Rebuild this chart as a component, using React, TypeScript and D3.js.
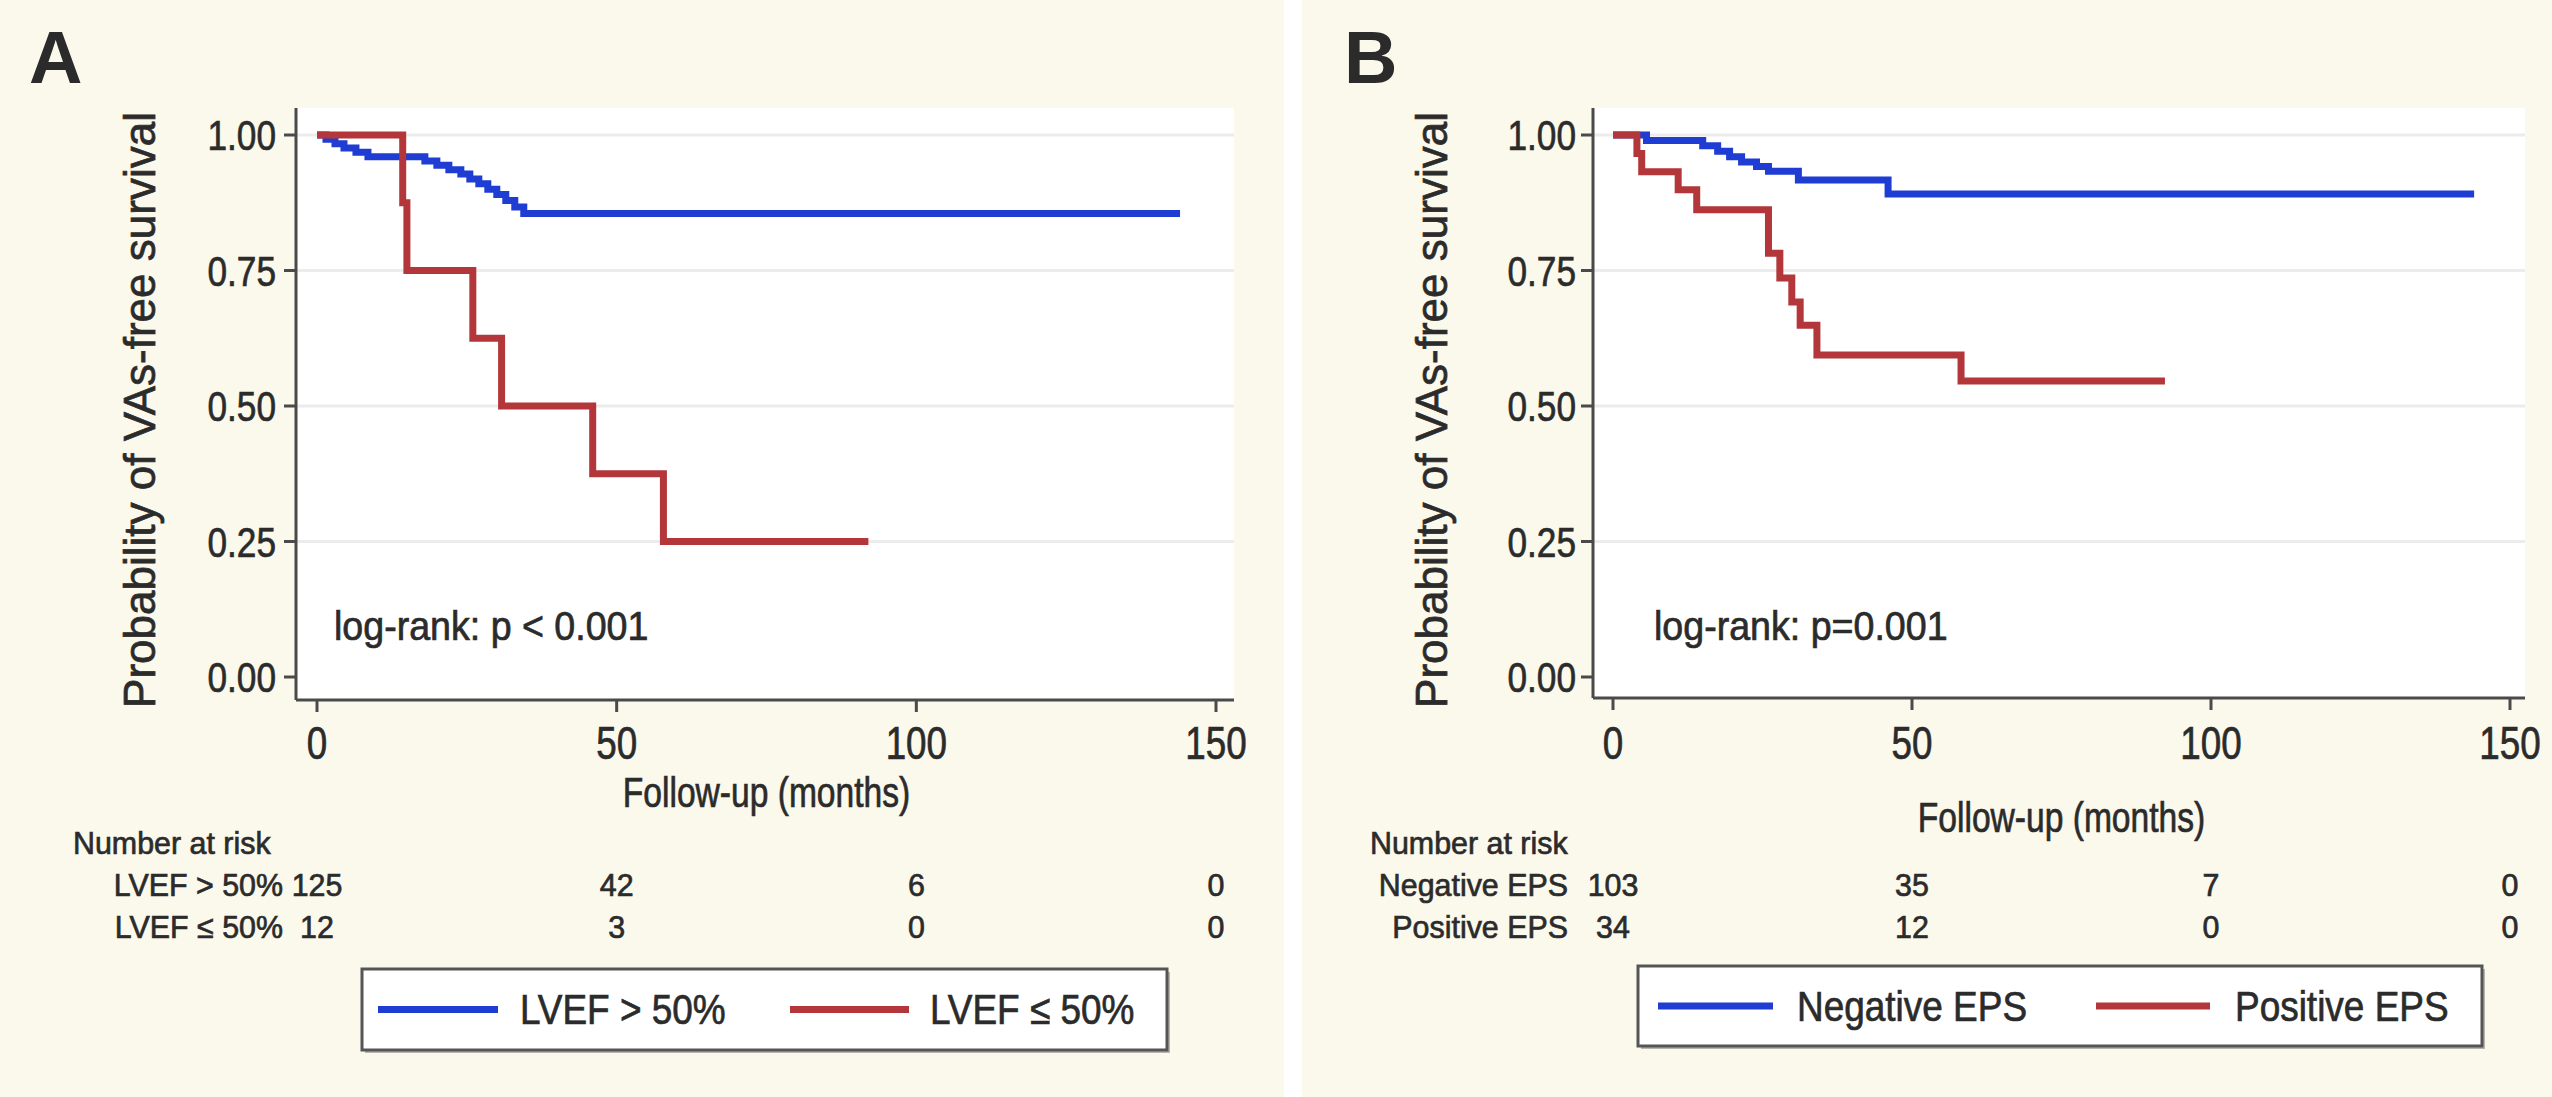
import React from 'react';
import * as d3 from 'd3';

// shared axes
const timeTicks = [0, 50, 100, 150];
const survTicks = [0, 0.25, 0.5, 0.75, 1];
const survTickLabels = ['0.00', '0.25', '0.50', '0.75', '1.00'];

// Panel A: LVEF
const lvefHighTimes = [0, 1.5, 3, 4.5, 6.5, 8.5, 18, 20, 22, 24, 25.5, 27, 28.5, 30, 31.5, 33, 34.5, 144];
const lvefHighSurv = [1, 0.992, 0.984, 0.976, 0.968, 0.96, 0.952, 0.944, 0.936, 0.928, 0.919, 0.91, 0.9, 0.89, 0.879, 0.867, 0.855, 0.855];
const lvefLowTimes = [0, 14.3, 15, 26, 30.8, 46, 57.8, 92];
const lvefLowSurv = [1, 0.875, 0.75, 0.625, 0.5, 0.375, 0.25, 0.25];
const lvefHighRisk = [125, 42, 6, 0];
const lvefLowRisk = [12, 3, 0, 0];

// Panel B: EPS
const epsNegTimes = [0, 5.6, 15, 17.5, 19.5, 21.5, 24, 26, 31, 46, 144];
const epsNegSurv = [1, 0.99, 0.98, 0.97, 0.96, 0.95, 0.942, 0.933, 0.917, 0.891, 0.891];
const epsPosTimes = [0, 4, 4.8, 10.9, 14, 26, 27.9, 29.9, 31.3, 34.1, 58.2, 92.3];
const epsPosSurv = [1, 0.966, 0.932, 0.899, 0.862, 0.782, 0.736, 0.692, 0.649, 0.594, 0.546, 0.546];
const epsNegRisk = [103, 35, 7, 0];
const epsPosRisk = [34, 12, 0, 0];

const BLUE = '#1f3dd2';
const RED = '#b3373a';
const INK = '#2b2b2b';
const AXIS = '#4a4a4a';
const FONT = '"Liberation Sans", Arial, Helvetica, sans-serif';

// text squeezed horizontally a bit, like the source picture
const T = ({ x, y, size, sx = 0.86, anchor = 'start', weight = 'normal', children }: any) => (
  <text
    transform={`translate(${x},${y}) scale(${sx},1)`}
    fontSize={size}
    fontFamily={FONT}
    fontWeight={weight}
    textAnchor={anchor}
    dy="0.35em"
    fill={INK}
    stroke={INK}
    strokeWidth={weight === 'bold' ? 0 : 0.7}
  >
    {children}
  </text>
);

const Panel = ({ p }: any) => {
  const x = d3.scaleLinear().domain([0, 150]).range(p.xRange);
  const y = d3.scaleLinear().domain([0, 1]).range([677, 135]);
  const line = d3
    .line<[number, number]>()
    .x((d) => x(d[0]))
    .y((d) => y(d[1]))
    .curve(d3.curveStepAfter);
  const pts = (t: number[], s: number[]) => t.map((v, i) => [v, s[i]] as [number, number]);
  const xMid = (p.xRange[0] + p.xRange[1]) / 2;

  return (
    <g>
      <rect x={p.bg[0]} y={0} width={p.bg[1] - p.bg[0]} height={1097} fill="#fbf8ec" />
      <T x={p.letterX} y={57} size={74} sx={1} weight="bold">{p.letter}</T>

      {/* plot region */}
      <rect x={p.axisX} y={108} width={p.plotRight - p.axisX} height={p.axisY - 108} fill="#ffffff" />
      {survTicks.filter((v) => v > 0).map((v) => (
        <line key={v} x1={p.axisX} x2={p.plotRight} y1={y(v)} y2={y(v)} stroke="#ececec" strokeWidth={3} />
      ))}

      {/* axes */}
      <line x1={p.axisX} x2={p.axisX} y1={108} y2={p.axisY} stroke={AXIS} strokeWidth={3} />
      <line x1={p.axisX} x2={p.plotRight} y1={p.axisY} y2={p.axisY} stroke={AXIS} strokeWidth={3} />
      {survTicks.map((v, i) => (
        <g key={v}>
          <line x1={p.axisX - 12} x2={p.axisX} y1={y(v)} y2={y(v)} stroke={AXIS} strokeWidth={3} />
          <T x={p.yLabRight} y={y(v)} size={43} sx={0.82} anchor="end">{survTickLabels[i]}</T>
        </g>
      ))}
      {timeTicks.map((t) => (
        <g key={t}>
          <line x1={x(t)} x2={x(t)} y1={p.axisY} y2={p.axisY + 12} stroke={AXIS} strokeWidth={3} />
          <T x={x(t)} y={743} size={46} sx={0.8} anchor="middle">{t}</T>
        </g>
      ))}
      <T x={xMid} y={p.xTitleY} size={42} sx={0.8} anchor="middle">Follow-up (months)</T>
      <text
        transform={`translate(${p.yTitleX},410) rotate(-90)`}
        fontSize={44}
        fontFamily={FONT}
        textAnchor="middle"
        dy="0.35em"
        fill={INK}
        stroke={INK}
        strokeWidth={0.7}
      >
        Probability of VAs-free survival
      </text>

      {/* curves */}
      {p.series.map((s: any) => (
        <path key={s.label} d={line(pts(s.times, s.surv)) || ''} fill="none" stroke={s.color} strokeWidth={7} />
      ))}

      <T x={p.logX} y={626} size={40} sx={0.94}>{p.logText}</T>

      {/* number at risk */}
      <T x={p.riskTitleX} y={843} size={32} sx={0.95}>Number at risk</T>
      {p.series.map((s: any, r: number) => (
        <g key={s.label}>
          <T x={p.riskLabRight} y={885 + r * 42} size={32} sx={0.95} anchor="end">{s.label}</T>
          {timeTicks.map((t, i) => (
            <T key={t} x={x(t)} y={885 + r * 42} size={32} sx={0.95} anchor="middle">{s.risk[i]}</T>
          ))}
        </g>
      ))}

      {/* legend */}
      <rect x={p.leg.x + 3} y={p.leg.y + 3} width={p.leg.w} height={p.leg.h} fill="#b8b5ac" />
      <rect x={p.leg.x} y={p.leg.y} width={p.leg.w} height={p.leg.h} fill="#ffffff" stroke="#555" strokeWidth={3} />
      {p.series.map((s: any, i: number) => (
        <g key={s.label}>
          <line
            x1={p.leg.items[i][0]}
            x2={p.leg.items[i][1]}
            y1={p.leg.y + p.leg.h / 2}
            y2={p.leg.y + p.leg.h / 2}
            stroke={s.color}
            strokeWidth={7}
          />
          <T x={p.leg.items[i][2]} y={p.leg.y + p.leg.h / 2} size={42} sx={0.88}>{s.label}</T>
        </g>
      ))}
    </g>
  );
};

const panels = [
  {
    letter: 'A', letterX: 29, bg: [0, 1284],
    xRange: [317, 1216], axisX: 296, axisY: 700, plotRight: 1234,
    yLabRight: 276, yTitleX: 140, xTitleY: 792,
    logX: 334, logText: 'log-rank: p < 0.001',
    riskTitleX: 73, riskLabRight: 283,
    leg: { x: 362, y: 969, w: 805, h: 81, items: [[378, 498, 520], [790, 909, 930]] },
    series: [
      { label: 'LVEF > 50%', color: BLUE, times: lvefHighTimes, surv: lvefHighSurv, risk: lvefHighRisk },
      { label: 'LVEF ≤ 50%', color: RED, times: lvefLowTimes, surv: lvefLowSurv, risk: lvefLowRisk },
    ],
  },
  {
    letter: 'B', letterX: 1344, bg: [1302, 2552],
    xRange: [1613, 2510], axisX: 1593, axisY: 698, plotRight: 2525,
    yLabRight: 1576, yTitleX: 1432, xTitleY: 817,
    logX: 1654, logText: 'log-rank: p=0.001',
    riskTitleX: 1370, riskLabRight: 1568,
    leg: { x: 1638, y: 966, w: 844, h: 80, items: [[1658, 1773, 1797], [2096, 2210, 2235]] },
    series: [
      { label: 'Negative EPS', color: BLUE, times: epsNegTimes, surv: epsNegSurv, risk: epsNegRisk },
      { label: 'Positive EPS', color: RED, times: epsPosTimes, surv: epsPosSurv, risk: epsPosRisk },
    ],
  },
];

export default function App() {
  return (
    <svg
      width={2552}
      height={1097}
      style={{ position: 'absolute', left: 0, top: 0, display: 'block' }}
    >
      <rect width={2552} height={1097} fill="#ffffff" />
      {panels.map((p) => (
        <Panel key={p.letter} p={p} />
      ))}
    </svg>
  );
}
